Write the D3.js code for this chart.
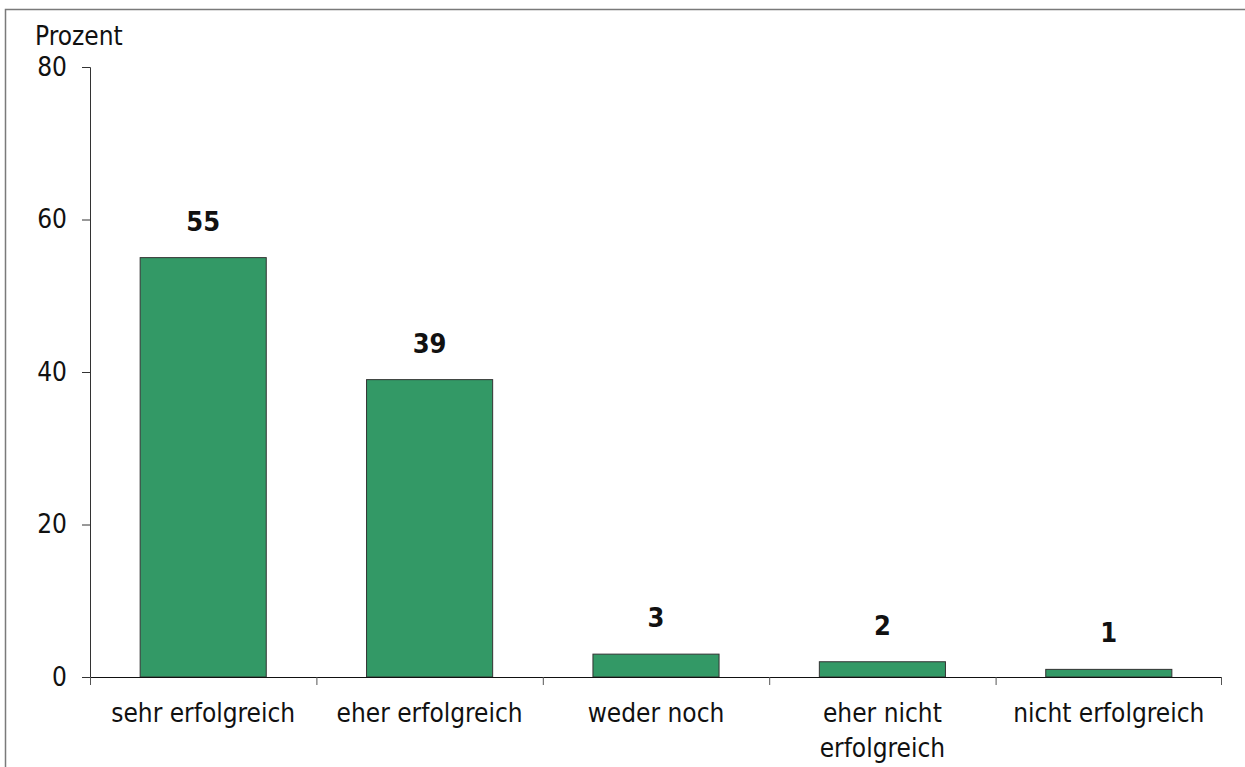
<!DOCTYPE html>
<html>
<head>
<meta charset="utf-8">
<script src="https://cdn.jsdelivr.net/npm/d3@7"></script>
<style>
  body { margin: 0; background: #fff; }
  svg text { font-family: "DejaVu Sans Condensed", "DejaVu Sans", sans-serif; fill: #111; }
</style>
</head>
<body>
<svg id="chart" width="1245" height="767"></svg>
<script>
// data
let categories = ["sehr erfolgreich", "eher erfolgreich", "weder noch", "eher nicht erfolgreich", "nicht erfolgreich"];
let categoryLines = [["sehr erfolgreich"], ["eher erfolgreich"], ["weder noch"], ["eher nicht", "erfolgreich"], ["nicht erfolgreich"]];
let percentValues = [55, 39, 3, 2, 1];
let yTicks = [0, 20, 40, 60, 80];
let yTitle = "Prozent";

let margin = { top: 67, right: 23, bottom: 90, left: 90 };
let widthOfChart = 1245 - margin.left - margin.right;
let heightOfChart = 677 - margin.top;
let labelSize = 26;

let svg = d3.select("#chart");

// frame around the chart area
svg.append("path")
    .attr("d", "M5.5,767 L5.5,9.5 L1245,9.5")
    .attr("fill", "none")
    .attr("stroke", "#7a7a7a")
    .attr("stroke-width", 1.5);

let g = svg.append("g")
    .attr("transform", "translate(" + margin.left + "," + margin.top + ")");

let x = d3.scaleBand()
    .domain(categories)
    .range([0, widthOfChart])
    .paddingInner(0.443)
    .paddingOuter(0.2215);

let y = d3.scaleLinear()
    .domain([0, 80])
    .range([heightOfChart, 0]);

// y axis
let yAxis = d3.axisLeft(y).tickValues(yTicks).tickSize(8).tickPadding(15);
let yAxisG = g.append("g").call(yAxis);
yAxisG.select(".domain").attr("stroke", "#333").attr("d", "M-8,0.5H0.5V" + heightOfChart);
yAxisG.selectAll(".tick line").attr("stroke", "#333");
yAxisG.selectAll(".tick text")
    .attr("font-size", labelSize)
    .style("font-family", "DejaVu Sans Condensed, DejaVu Sans, sans-serif");

g.append("text")
    .attr("x", -55)
    .attr("y", -22)
    .attr("font-size", labelSize)
    .text(yTitle);

// bars
g.selectAll("rect.bar")
    .data(percentValues)
    .enter()
    .append("rect")
    .attr("class", "bar")
    .attr("x", (d, i) => x(categories[i]))
    .attr("y", d => y(d))
    .attr("width", x.bandwidth())
    .attr("height", d => heightOfChart - y(d))
    .attr("fill", "#339966")
    .attr("stroke", "#333")
    .attr("stroke-width", 1);

// value labels
g.selectAll("text.val")
    .data(percentValues)
    .enter()
    .append("text")
    .attr("class", "val")
    .attr("x", (d, i) => x(categories[i]) + x.bandwidth() / 2)
    .attr("y", d => y(d) - 27)
    .attr("text-anchor", "middle")
    .attr("font-size", 27)
    .attr("font-weight", "bold")
    .text(d => d);

// x axis with ticks between the categories
let xAxisG = g.append("g").attr("transform", "translate(0," + heightOfChart + ")");
xAxisG.append("line")
    .attr("x1", 0).attr("x2", widthOfChart)
    .attr("y1", 0.5).attr("y2", 0.5)
    .attr("stroke", "#111");
let step = x.step();
xAxisG.selectAll("line.sep")
    .data(d3.range(categories.length + 1))
    .enter()
    .append("line")
    .attr("class", "sep")
    .attr("x1", i => 0.5 + Math.min(i * step, widthOfChart - 1))
    .attr("x2", i => 0.5 + Math.min(i * step, widthOfChart - 1))
    .attr("y1", 0)
    .attr("y2", 8)
    .attr("stroke", "#555");

let labels = xAxisG.selectAll("text.cat")
    .data(categoryLines)
    .enter()
    .append("text")
    .attr("class", "cat")
    .attr("text-anchor", "middle")
    .attr("font-size", labelSize)
    .attr("transform", (d, i) => "translate(" + (x(categories[i]) + x.bandwidth() / 2) + ",45)");
labels.selectAll("tspan")
    .data(d => d)
    .enter()
    .append("tspan")
    .attr("x", 0)
    .attr("y", (d, j) => j * 35)
    .text(d => d);
</script>
</body>
</html>
